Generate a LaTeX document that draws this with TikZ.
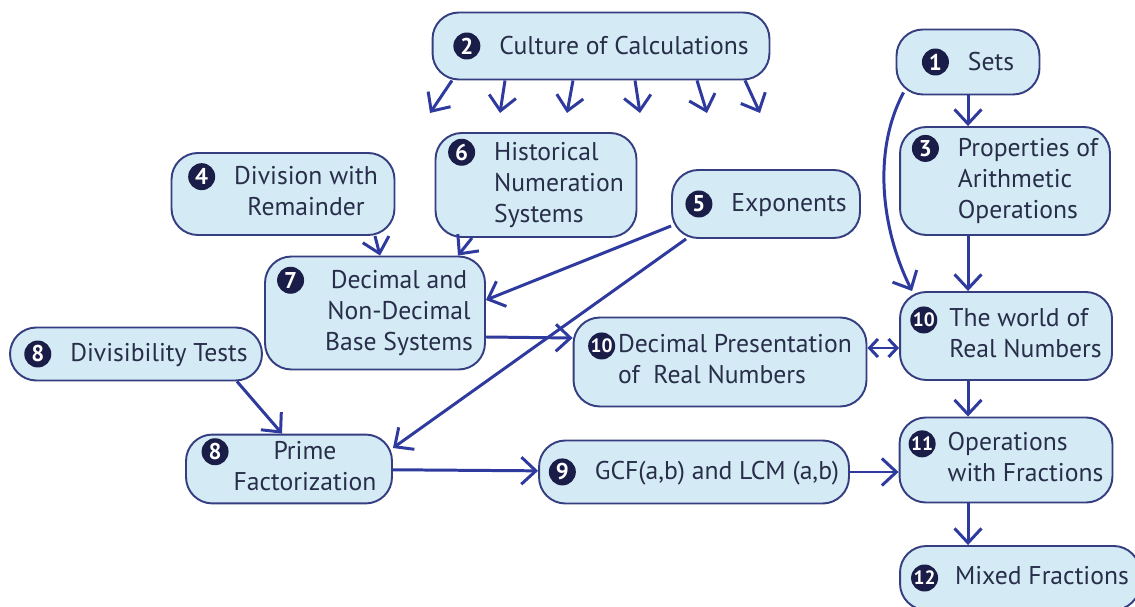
\documentclass[tikz,border=0pt]{standalone}
\usepackage{fontspec}
\setmainfont{PT Sans}
\usetikzlibrary{arrows.meta}

\definecolor{boxfill}{RGB}{212,235,245}
\definecolor{boxline}{RGB}{52,62,128}
\definecolor{arrowcol}{RGB}{46,58,158}
\definecolor{badgecol}{RGB}{26,29,72}
\definecolor{textcol}{RGB}{40,46,74}

% numbered disc in front of a title
\newcommand{\badge}[2][13]{\tikz[baseline=(b.base)]\node[circle,draw=none,fill=badgecol,text=white,inner sep=0pt,minimum size=.54cm,font=\bfseries\fontsize{#1}{#1}\selectfont](b){#2};}

\begin{document}
\begin{tikzpicture}[x=0.02cm,y=-0.02cm,
	box/.style={draw=boxline,line width=1.1pt,fill=boxfill,rounded corners=15pt,text=textcol,font=\fontsize{14.6}{17.6}\selectfont,inner sep=2pt},
	arr/.style={draw=arrowcol,line width=1.7pt,-{Straight Barb[length=2.9mm,width=5.4mm]}},
	darr/.style={draw=arrowcol,line width=1.7pt,{Straight Barb[length=1.7mm,width=3.6mm]}-{Straight Barb[length=1.7mm,width=3.6mm]}}]
	\useasboundingbox (0,0) rectangle (1135,607);

	% top row
	\node[box,minimum width=6.74cm,minimum height=1.34cm] (n2) at (601,46) {\badge{2}\hspace{.38cm}Culture of Calculations};
	\node[box,minimum width=2.86cm,minimum height=1.3cm] (n1) at (968,62) {\badge{1}\hspace{.38cm}Sets\hspace{.44cm}};
	\node[box,minimum width=4.2cm,minimum height=2.16cm] (n3) at (1005,181) {\badge{3}\hspace{.38cm}\begin{tabular}[t]{@{}l@{}}Properties of\\Arithmetic\\Operations\end{tabular}};

	% middle
	\node[box,minimum width=4.46cm,minimum height=1.64cm] (n4) at (283,194) {\badge{4}\hspace{.38cm}\begin{tabular}[t]{@{}c@{}}Division with\\Remainder\end{tabular}};
	\node[box,minimum width=4.02cm,minimum height=2.08cm] (n6) at (536,185) {\badge{6}\hspace{.38cm}\begin{tabular}[t]{@{}l@{}}Historical\\Numeration\\Systems\end{tabular}};
	\node[box,minimum width=3.76cm,minimum height=1.36cm] (n5) at (766,204) {\badge{5}\hspace{.38cm}Exponents};
	\node[box,minimum width=4.4cm,minimum height=2.26cm] (n7) at (375,313) {\badge{7}\hspace{.42cm}\begin{tabular}[t]{@{}c@{}}Decimal and\\Non-Decimal\\Base Systems\end{tabular}};
	\node[box,minimum width=5.04cm,minimum height=1.06cm] (n8a) at (136,354) {\badge{8}\hspace{.38cm}Divisibility Tests};
	\node[box,minimum width=5.86cm,minimum height=1.78cm] (n10a) at (720,362) {\badge[11]{10}\hspace{.06cm}\begin{tabular}[t]{@{}l@{}}Decimal Presentation\\of~ Real Numbers\end{tabular}};
	\node[box,minimum width=4.24cm,minimum height=1.76cm] (n10b) at (1006,336) {\badge[11]{10}\hspace{.24cm}\begin{tabular}[t]{@{}l@{}}The world of\\Real Numbers\end{tabular}};

	% bottom
	\node[box,minimum width=4.12cm,minimum height=1.36cm] (n8b) at (289,469) {\badge{8}\hspace{.1cm}\begin{tabular}[t]{@{}c@{}}Prime\\Factorization\end{tabular}};
	\node[box,minimum width=6.2cm,minimum height=1.26cm] (n9) at (694,472) {\badge{9}\hspace{.38cm}GCF(a,b) and LCM (a,b)};
	\node[box,minimum width=4.26cm,minimum height=1.7cm] (n11) at (1006,460) {\badge[11]{11}\hspace{.24cm}\begin{tabular}[t]{@{}l@{}}Operations\\with Fractions\end{tabular}};
	\node[box,minimum width=4.8cm,minimum height=1.28cm] (n12) at (1020,578) {\badge[11]{12}\hspace{.34cm}Mixed Fractions};

	% arrows out of "Culture of Calculations"
	\foreach \a/\b in {452/430,505/500,573/567,635/640,697/707,745/760}
		\draw[arr] (n2.south -| \a,0) -- (\b,113);

	% right column
	\draw[arr] (n1.south) -- (n1.south |- n3.north);
	\draw[arr] (n1.south |- n3.south) -- (n1.south |- n10b.north);
	\draw[arr] (n1.south |- n10b.south) -- (n1.south |- n11.north);
	\draw[arr] (n1.south |- n11.south) -- (n1.south |- n12.north);
	\draw[arr] ([xshift=.16cm,yshift=.06cm]n1.south west) .. controls +(-32,60) and +(-30,-60) .. ([xshift=.26cm]n10b.north west);

	% left part
	\draw[arr] ([xshift=1.84cm]n4.south) -- ([xshift=.1cm]n7.north);
	\draw[arr] ([xshift=-1.28cm]n6.south) -- ([xshift=1.66cm]n7.north);
	\draw[arr] ([yshift=-.44cm]n5.west) -- ([yshift=.26cm]n7.east);
	\draw[arr] ([xshift=.3cm]n5.south west) -- ([yshift=.42cm]n8b.east);
	\draw[arr] ([xshift=2.02cm]n8a.south) -- ([xshift=-.14cm]n8b.north);
	\draw[arr] ([yshift=-.48cm]n7.east) -- ([yshift=.48cm]n10a.west);
	\draw[darr] ([yshift=.28cm]n10a.east) -- ([yshift=.28cm]n10a.east -| n10b.west);
	\draw[arr] (n8b) -- (n9);
	\draw[arr] (n9.east) -- (n9.east -| n11.west);
\end{tikzpicture}
\end{document}
